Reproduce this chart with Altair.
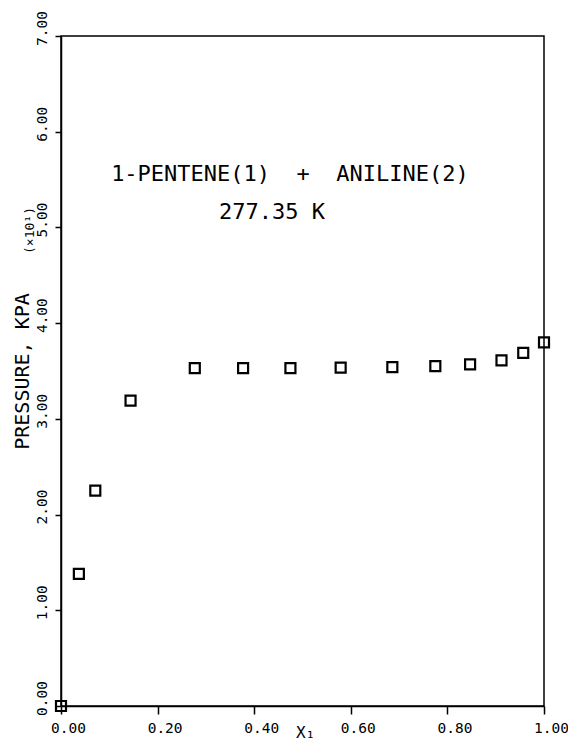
import altair as alt
import pandas as pd

# Data
x1 = [0.0, 0.037, 0.071, 0.144, 0.277, 0.377, 0.475, 0.579, 0.686, 0.775, 0.847, 0.912, 0.957, 1.0]
pressure = [0.0, 1.38, 2.25, 3.19, 3.53, 3.53, 3.53, 3.535, 3.54, 3.55, 3.57, 3.61, 3.69, 3.80]

x_ticks = [0.0, 0.2, 0.4, 0.6, 0.8, 1.0]
y_ticks = [0, 1, 2, 3, 4, 5, 6, 7]

NB = "\u00a0"
ann_text = ["1-PENTENE(1)" + NB * 2 + "+" + NB * 2 + "ANILINE(2)", "277.35" + NB + "K"]
ann_x = [0.474, 0.437]
ann_y = [5.553, 5.156]

mult_text = ["(×10¹)"]
mult_x = [-0.064]
mult_y = [4.968]

FONT = "DejaVu Sans Mono"

df = pd.DataFrame({"x1": x1, "p": pressure})
ann = pd.DataFrame({"x1": ann_x, "p": ann_y, "t": ann_text})
mult = pd.DataFrame({"x1": mult_x, "p": mult_y, "t": mult_text})

xscale = alt.Scale(domain=[0, 1], nice=False, zero=False)
yscale = alt.Scale(domain=[0, 7], nice=False, zero=False)

xaxis = alt.Axis(values=x_ticks, format=".2f", title="X₁", grid=False,
                 tickSize=8, labelPadding=7, labelOffset=7, labelFlush=False,
                 labelOverlap=False, labelBaseline="top",
                 titleX=244, titleY=26, titleAlign="center", titleBaseline="middle",
                 titleFontSize=16)
yaxis = alt.Axis(values=y_ticks, format=".2f", title="PRESSURE, KPA", grid=False,
                 tickSize=6, labelPadding=6, labelAngle=270, labelAlign="center",
                 labelBaseline="bottom", labelOffset=-8, labelFlush=False,
                 labelOverlap=False,
                 titleX=-39, titleY=335, titleAngle=270, titleAlign="center",
                 titleBaseline="middle", titleFontSize=20)

points = alt.Chart(df).mark_point(
    shape="square", size=100, filled=False, color="black", strokeWidth=2.2, opacity=1
).encode(
    x=alt.X("x1:Q", scale=xscale, axis=xaxis),
    y=alt.Y("p:Q", scale=yscale, axis=yaxis),
)

labels = alt.Chart(ann).mark_text(
    font=FONT, fontSize=22, color="black", align="center", baseline="middle"
).encode(
    x=alt.X("x1:Q", scale=xscale, axis=xaxis),
    y=alt.Y("p:Q", scale=yscale, axis=yaxis),
    text="t:N",
)

multiplier = alt.Chart(mult).mark_text(
    font=FONT, fontSize=13, color="black", align="center", baseline="middle", angle=270
).encode(
    x=alt.X("x1:Q", scale=xscale, axis=xaxis),
    y=alt.Y("p:Q", scale=yscale, axis=yaxis),
    text="t:N",
)

chart = alt.layer(points, labels, multiplier).properties(
    width=483, height=670,
    autosize=alt.AutoSizeParams(type="none"),
    padding={"left": 53, "top": 28, "right": 24, "bottom": 36},
    background="white",
).configure_view(
    stroke="black", strokeWidth=1.5
).configure_axis(
    domainColor="black", domainWidth=1.5, tickColor="black", tickWidth=1.5,
    labelColor="black", titleColor="black", labelFont=FONT, titleFont=FONT,
    labelFontSize=14.5, titleFontWeight="normal",
)

chart.save("out.html", embed_options={"renderer": "svg", "actions": False})
